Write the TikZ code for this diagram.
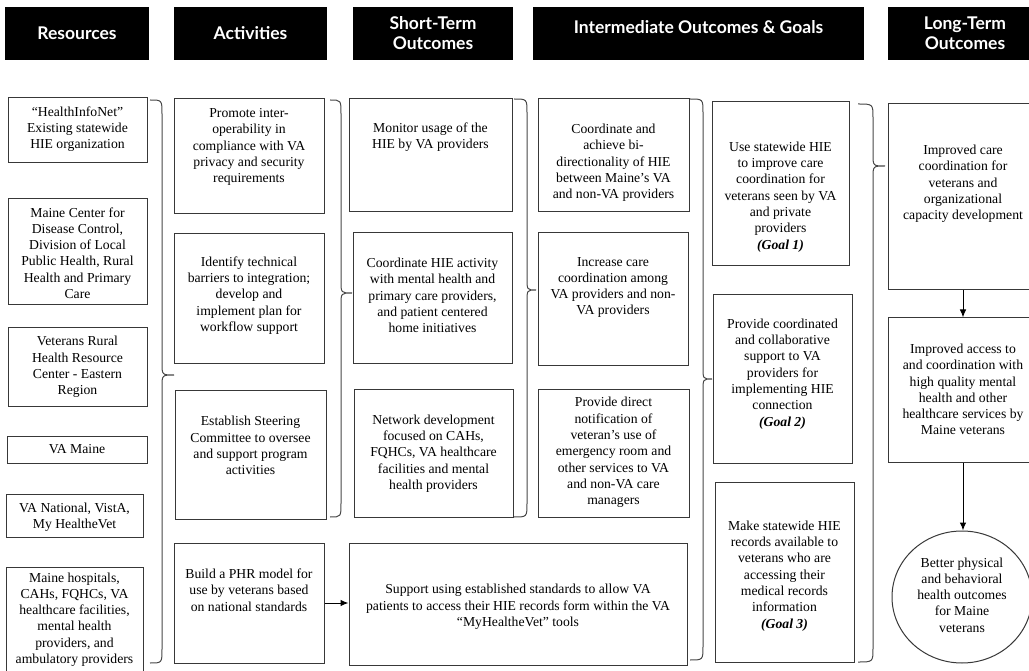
\documentclass[tikz,border=0pt]{standalone}
\usepackage{fontspec}
\setmainfont{Liberation Serif}
\newfontfamily\hdrfont{Lato}
\usepackage{tikz}
\usetikzlibrary{arrows.meta,positioning,calc,shapes.geometric}

% curly brace: x0, xmid, xtip, ytop, ytip, ybottom
\newcommand{\lmbrace}[6]{%
  \draw[brc] (#1,#4) .. controls (#2,#4) .. (#2,#4+14) -- (#2,#5-12)
    .. controls (#2,#5) .. (#3,#5) .. controls (#2,#5) .. (#2,#5+12)
    -- (#2,#6-14) .. controls (#2,#6) .. (#1,#6);}

\begin{document}
\begin{tikzpicture}[
  x=1pt, y=-1pt,
  >={Latex[length=8pt,width=6.5pt]},
  hdr/.style={fill=black, text=white, inner sep=0pt, align=center,
    font=\hdrfont\bfseries\fontsize{17.5}{20}\selectfont},
  box/.style={draw=black!78, line width=1pt, inner sep=0pt},
  txt/.style={align=center, inner sep=0pt, font=\fontsize{13.7}{16.3}\selectfont},
  brc/.style={draw=black!72, line width=1pt},
  arr/.style={->, draw=black, line width=1pt}
]
\useasboundingbox (0,0) rectangle (1029,671);

% ==================== HEADERS ====================
\node[hdr, minimum width=144, minimum height=53] (h1) at (77,33.5) {Resources};
\node[hdr, minimum width=153, minimum height=53] (h2) at (250.5,33.5) {Activities};
\node[hdr, minimum width=160, minimum height=53] (h3) at (433,33.5) {Short-Term\\Outcomes};
\node[hdr, minimum width=331, minimum height=53, text height=12pt, text depth=12pt] (h4) at (698.5,33.5) {Intermediate Outcomes \& Goals};
\node[hdr, minimum width=154, minimum height=53] (h5) at (965,33.5) {Long-Term\\Outcomes};

% ==================== RESOURCES ====================
\node[box, minimum width=139, minimum height=65] (res1) at (77.5,130.5) {};
\node[txt] (res1t) at (77.5,129) {``HealthInfoNet''\\Existing statewide\\HIE organization};
\node[box, minimum width=139, minimum height=106] (res2) at (77.5,252) {};
\node[txt] (res2t) at (77.5,253) {Maine Center for\\Disease Control,\\Division of Local\\Public Health, Rural\\Health and Primary\\Care};
\node[box, minimum width=139, minimum height=78] (res3) at (77.5,367) {};
\node[txt] (res3t) at (77.5,367) {Veterans Rural\\Health Resource\\Center - Eastern\\Region};
\node[box, minimum width=140, minimum height=27] (res4) at (77,449.5) {};
\node[txt] (res4t) at (77,449.5) {VA Maine};
\node[box, minimum width=137, minimum height=43] (res5) at (74.5,515.5) {};
\node[txt] (res5t) at (74.5,517) {VA National, VistA,\\My HealtheVet};
\node[box, minimum width=137, minimum height=106] (res6) at (74.5,620) {};
\node[txt] (res6t) at (74.5,619.5) {Maine hospitals,\\CAHs, FQHCs, VA\\healthcare facilities,\\mental health\\providers, and\\ambulatory providers};

\lmbrace{150}{162}{174}{100}{375}{663}

% ==================== ACTIVITIES ====================
\node[box, minimum width=150, minimum height=115] (act1) at (249,156.5) {};
\node[txt] (act1t) at (249,147) {Promote inter-\\operability in\\compliance with VA\\privacy and security\\requirements};
\node[box, minimum width=150, minimum height=129] (act2) at (249,298.5) {};
\node[txt] (act2t) at (249,295.5) {Identify technical\\barriers to integration;\\develop and\\implement plan for\\workflow support};
\node[box, minimum width=151, minimum height=129] (act3) at (250.5,454.5) {};
\node[txt] (act3t) at (250.5,445.5) {Establish Steering\\Committee to oversee\\and support program\\activities};
\node[box, minimum width=150, minimum height=120] (act4) at (249,603) {};
\node[txt] (act4t) at (249,590) {Build a PHR model for\\use by veterans based\\on national standards};

\lmbrace{330}{341}{352}{100}{293}{517}

% ==================== SHORT-TERM ====================
\node[box, minimum width=163, minimum height=113] (st1) at (430.5,155.5) {};
\node[txt] (st1t) at (430.5,137.5) {Monitor usage of the\\HIE by VA providers};
\node[box, minimum width=159, minimum height=130] (st2) at (432.5,298) {};
\node[txt] (st2t) at (432.5,295.5) {Coordinate HIE activity\\with mental health and\\primary care providers,\\and patient centered\\home initiatives};
\node[box, minimum width=159, minimum height=128] (st3) at (433.5,453) {};
\node[txt] (st3t) at (433.5,453.5) {Network development\\focused on CAHs,\\FQHCs, VA healthcare\\facilities and mental\\health providers};
\node[box, minimum width=338, minimum height=122] (st4) at (518,604) {};
\node[txt] (st4t) at (518,607) {Support using established standards to allow VA\\patients to access their HIE records form within the VA\\``MyHealtheVet'' tools};

\draw[arr] (act4.east) -- (act4.east -| st4.west);

\lmbrace{514}{527}{536}{99}{290}{517}

% ==================== INTERMEDIATE ====================
\node[box, minimum width=151, minimum height=113] (im1) at (613.5,155.5) {};
\node[txt] (im1t) at (613.5,163) {Coordinate and\\achieve bi-\\directionality of HIE\\between Maine's VA\\and non-VA providers};
\node[box, minimum width=150, minimum height=132] (im2) at (613,299) {};
\node[txt] (im2t) at (613,287.5) {Increase care\\coordination among\\VA providers and non-\\VA providers};
\node[box, minimum width=151, minimum height=128] (im3) at (613.5,453) {};
\node[txt] (im3t) at (613.5,452.5) {Provide direct\\notification of\\veteran's use of\\emergency room and\\other services to VA\\and non-VA care\\managers};

\lmbrace{690}{703}{712}{99}{379}{660}

% ==================== GOALS ====================
\node[box, minimum width=137, minimum height=164] (gl1) at (780.5,184) {};
\node[txt] (gl1t) at (780.5,197) {Use statewide HIE\\to improve care\\coordination for\\veterans seen by VA\\and private\\providers\\\textbf{\textit{(Goal 1)}}};
\node[box, minimum width=139, minimum height=168] (gl2) at (782.5,379) {};
\node[txt] (gl2t) at (782.5,374) {Provide coordinated\\and collaborative\\support to VA\\providers for\\implementing HIE\\connection\\\textbf{\textit{(Goal 2)}}};
\node[box, minimum width=139, minimum height=180] (gl3) at (784.5,572) {};
\node[txt] (gl3t) at (784.5,576) {Make statewide HIE\\records available to\\veterans who are\\accessing their\\medical records\\information\\\textbf{\textit{(Goal 3)}}};

\lmbrace{858}{873}{885}{104}{166}{662}

% ==================== LONG-TERM ====================
\node[box, minimum width=150, minimum height=186] (lt1) at (963,197) {};
\node[txt] (lt1t) at (963,184) {Improved care\\coordination for\\veterans and\\organizational\\capacity development};
\node[box, minimum width=150, minimum height=144] (lt2) at (963,390) {};
\node[txt] (lt2t) at (963,389.5) {Improved access to\\and coordination with\\high quality mental\\health and other\\healthcare services by\\Maine veterans};
\node[box, ellipse, minimum width=140, minimum height=132] (lt3) at (962,597) {};
\node[txt] (lt3t) at (962,595) {Better physical\\and behavioral\\health outcomes\\for Maine\\veterans};

\draw[arr] (lt1.south) -- (lt2.north);
\draw[arr] (lt2.south) -- (lt2.south |- lt3.north);

\end{tikzpicture}
\end{document}
